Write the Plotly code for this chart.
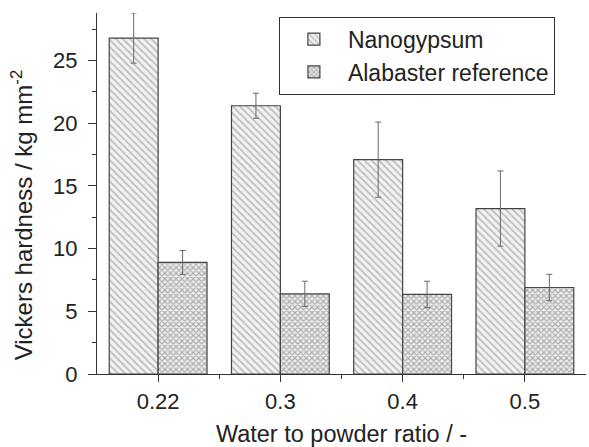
import plotly.graph_objects as go

categories = ["0.22", "0.3", "0.4", "0.5"]
nano_values = [26.8, 21.4, 17.1, 13.2]
nano_err = [2.0, 1.0, 3.0, 3.0]
alab_values = [8.9, 6.4, 6.35, 6.9]
alab_err = [0.95, 1.0, 1.05, 1.05]

xpos = list(range(len(categories)))
font = "Liberation Sans, Arial, sans-serif"

fig = go.Figure()
fig.add_trace(go.Bar(
    name="Nanogypsum", x=xpos, y=nano_values,
    error_y=dict(type="data", array=nano_err, symmetric=True, color="#6a6a6a", thickness=1, width=3),
    marker=dict(color="white", line=dict(color="#444", width=1.2),
                pattern=dict(shape="\\", fgcolor="#8a8a8a", bgcolor="#f2f2f2", size=5, solidity=0.35)),
))
fig.add_trace(go.Bar(
    name="Alabaster reference", x=xpos, y=alab_values,
    error_y=dict(type="data", array=alab_err, symmetric=True, color="#6a6a6a", thickness=1, width=3),
    marker=dict(color="white", line=dict(color="#444", width=1.2),
                pattern=dict(shape="x", fgcolor="#6a6a6a", bgcolor="#eeeeee", size=4, solidity=0.5)),
))

fig.update_layout(
    width=589, height=447,
    margin=dict(l=97, r=3, t=13, b=73),
    paper_bgcolor="white", plot_bgcolor="white",
    barmode="group", bargap=0.2, bargroupgap=0,
    font=dict(family=font, size=22, color="#222"),
    legend=dict(x=0.372, y=0.99, xanchor="left", yanchor="top",
                bordercolor="#333", borderwidth=1, bgcolor="white",
                font=dict(size=23), tracegroupgap=0, itemwidth=58),
    showlegend=True,
)
fig.add_annotation(
    text="Vickers hardness / kg mm<sup>-2</sup>", textangle=-90,
    xref="paper", yref="paper", x=-0.153, y=0.44, xanchor="center", yanchor="middle",
    showarrow=False, font=dict(size=24, family=font, color="#222"),
)
fig.update_xaxes(
    range=[-0.5, 3.5], tickvals=xpos, ticktext=categories,
    showline=True, linecolor="#333", linewidth=1.2, showgrid=False, zeroline=False,
    ticks="outside", ticklen=7, tickcolor="#333",
    minor=dict(tickvals=[0.5, 1.5, 2.5], ticks="outside", ticklen=4, tickcolor="#333"),
    title=dict(text="Water to powder ratio / -", standoff=14, font=dict(size=23.5)),
    tickfont=dict(size=22),
)
fig.update_yaxes(
    range=[0, 28.8], tickvals=[0, 5, 10, 15, 20, 25],
    showline=True, linecolor="#333", linewidth=1.2, showgrid=False, zeroline=False,
    ticks="outside", ticklen=8, tickcolor="#333", ticklabelstandoff=6,
    minor=dict(tickvals=[2.5, 7.5, 12.5, 17.5, 22.5, 27.5], ticks="outside", ticklen=4, tickcolor="#333"),
    tickfont=dict(size=22),
)

fig.write_html("out.html")
